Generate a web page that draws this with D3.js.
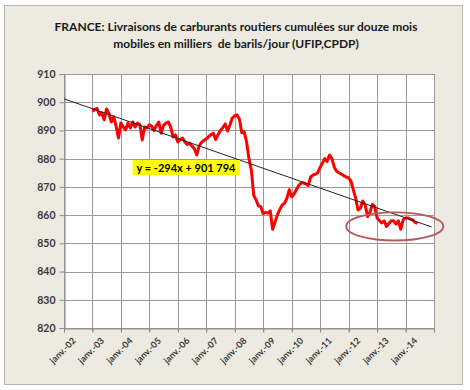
<!DOCTYPE html>
<html><head><meta charset="utf-8">
<script src="https://cdn.jsdelivr.net/npm/d3@7"></script>
<style>
body{margin:0;background:#fff;}
svg{display:block;}
text.title{white-space:pre;}
</style></head><body>
<svg id="c" width="470" height="390"></svg>
<script>
// ---- data ----
const titleLines = ["FRANCE: Livraisons de carburants routiers cumulées sur douze mois",
                    "mobiles en milliers  de barils/jour (UFIP,CPDP)"];
const seriesStart = [2003, 0]; // janv. 2003, monthly
const deliveries = [
 896.8,897.5,897.8,895.5,896.2,893.8,897.6,896.0,893.0,894.8,891.5,887.3,
 892.6,891.2,890.2,892.6,890.9,893.0,891.2,892.6,892.0,886.6,891.2,890.9,
 892.0,891.5,890.0,891.8,893.0,889.0,891.8,892.6,893.0,891.2,887.7,888.4,
 885.9,886.8,887.3,886.0,885.0,885.5,884.5,883.5,881.3,884.5,885.8,886.5,
 887.0,887.8,888.5,889.0,886.8,888.5,890.0,891.0,892.3,889.8,892.0,894.4,
 895.2,895.5,894.0,889.2,889.5,886.0,880.0,876.0,867.0,865.4,863.2,863.0,
 860.5,861.0,860.7,861.5,855.0,857.5,860.0,862.0,863.6,864.2,866.0,869.0,
 866.5,867.5,869.0,870.5,871.4,871.4,871.0,870.5,873.5,874.2,874.5,875.0,
 877.0,878.5,880.0,879.0,881.3,880.0,877.0,875.5,875.0,874.5,874.0,873.5,
 873.2,872.0,869.0,866.0,861.8,862.5,865.0,863.6,859.5,861.0,863.8,863.0,
 859.0,858.0,857.2,858.0,856.0,857.0,858.0,858.0,856.8,858.0,855.0,858.3,
 859.0,859.0,858.6,858.3,857.5,857.0
];
const trendDates = [[2002,0],[2014,11]];
const trendValues = [901.2, 855.8];
const equationText = "y = -294x + 901 794";
const yTicks = [820,830,840,850,860,870,880,890,900,910];
const xTickYears = [2002,2003,2004,2005,2006,2007,2008,2009,2010,2011,2012,2013,2014];
const xTickLabels = ["janv.-02","janv.-03","janv.-04","janv.-05","janv.-06","janv.-07","janv.-08",
                     "janv.-09","janv.-10","janv.-11","janv.-12","janv.-13","janv.-14"];
const highlightPeriod = [[2011,11],[2015,4]];
const highlightRange = [851, 861];

// ---- drawing ----
const svg = d3.select("#c");
const plot = {l:64, r:434, t:74, b:328};
const x = d3.scaleTime().domain([new Date(2002,0,1), new Date(2015,0,1)]).range([plot.l, plot.r]);
const y = d3.scaleLinear().domain([820,910]).range([plot.b, plot.t]);

svg.append("rect").attr("x",4.5).attr("y",5.5).attr("width",458).attr("height",379)
   .attr("fill","#eceae1").attr("stroke","#b4b4b0").attr("stroke-width",1);

svg.selectAll("text.title").data(titleLines).join("text").attr("class","title")
   .attr("x",236).attr("y",(d,i)=>31+i*17).attr("text-anchor","middle")
   .attr("font-family","Lato, 'Open Sans', sans-serif").attr("font-weight","bold")
   .attr("font-size",12).attr("fill","#1a1a1a").text(d=>d);

svg.append("rect").attr("x",plot.l).attr("y",plot.t).attr("width",plot.r-plot.l).attr("height",plot.b-plot.t)
   .attr("fill","#fff");

// gridlines
svg.append("g").selectAll("line").data(yTicks).join("line")
   .attr("x1",plot.l).attr("x2",plot.r).attr("y1",d=>Math.round(y(d))+0.5).attr("y2",d=>Math.round(y(d))+0.5)
   .attr("stroke","#9a9a9a").attr("stroke-width",1);
svg.append("g").selectAll("line").data(xTickYears.concat([2015])).join("line")
   .attr("y1",plot.t).attr("y2",plot.b+4)
   .attr("x1",d=>Math.round(x(new Date(d,0,1)))+0.5).attr("x2",d=>Math.round(x(new Date(d,0,1)))+0.5)
   .attr("stroke","#9a9a9a").attr("stroke-width",1);

// y axis
const yAxis = d3.axisLeft(y).tickValues(yTicks).tickSize(5).tickPadding(4);
const gy = svg.append("g").attr("transform",`translate(${plot.l+0.5},0)`).call(yAxis);
gy.select(".domain").attr("stroke","#8a8a8a");
gy.selectAll(".tick line").attr("stroke","#8a8a8a");
gy.selectAll(".tick text").attr("font-family","Lato, 'Open Sans', sans-serif").attr("font-weight","bold")
  .attr("font-size",10.5).attr("fill","#3a3a3a");

// x axis
const xAxis = d3.axisBottom(x).tickValues(xTickYears.map(yr=>new Date(yr,0,1)))
  .tickFormat((d,i)=>xTickLabels[i]).tickSize(4).tickPadding(3);
const gx = svg.append("g").attr("transform",`translate(0,${plot.b+0.5})`).call(xAxis);
gx.select(".domain").attr("stroke","#8a8a8a");
gx.selectAll(".tick line").attr("stroke","#8a8a8a");
gx.selectAll(".tick text").attr("font-family","Lato, 'Open Sans', sans-serif").attr("font-weight","bold")
  .attr("font-size",9).attr("fill","#3a3a3a")
  .attr("text-anchor","end").attr("dy","0.3em")
  .attr("transform","translate(5,6) rotate(-45)");

// series
const data = deliveries.map((v,i)=>({d:new Date(seriesStart[0], seriesStart[1]+i, 1), v}));
svg.append("path").datum(data)
   .attr("d", d3.line().x(p=>x(p.d)).y(p=>y(p.v)).curve(d3.curveLinear))
   .attr("fill","none").attr("stroke","#ff0000").attr("stroke-width",3).attr("stroke-linejoin","round");

// trend
const tData = trendDates.map((d,i)=>({d:new Date(d[0],d[1],1), v:trendValues[i]}));
svg.append("path").datum(tData)
   .attr("d", d3.line().x(p=>x(p.d)).y(p=>y(p.v)))
   .attr("fill","none").attr("stroke","#222").attr("stroke-width",1);

// equation label
const eq = svg.append("g");
const eqText = eq.append("text").attr("x",186).attr("y",172).attr("text-anchor","middle")
   .attr("font-family","Lato, 'Open Sans', sans-serif").attr("font-weight","bold")
   .attr("font-size",11).attr("fill","#000").text(equationText);
const bb = eqText.node().getBBox();
eq.insert("rect","text").attr("x",bb.x-4).attr("y",bb.y-1).attr("width",bb.width+8).attr("height",bb.height+2)
   .attr("fill","#ffff00");

// highlight ellipse
const ex0 = x(new Date(highlightPeriod[0][0],highlightPeriod[0][1],1));
const ex1 = x(new Date(highlightPeriod[1][0],highlightPeriod[1][1],1));
const ey0 = y(highlightRange[1]), ey1 = y(highlightRange[0]);
svg.append("ellipse").attr("cx",(ex0+ex1)/2).attr("cy",(ey0+ey1)/2)
   .attr("rx",(ex1-ex0)/2).attr("ry",(ey1-ey0)/2)
   .attr("fill","none").attr("stroke","#b9585c").attr("stroke-width",1.8);
</script>
</body></html>
